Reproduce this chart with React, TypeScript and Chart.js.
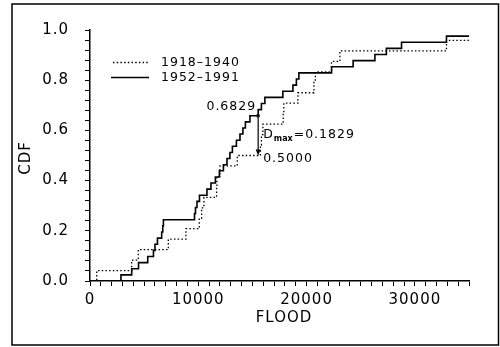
import React, { useEffect, useRef } from "react";
import { Chart, registerables } from "chart.js";

Chart.register(...registerables);

const FONT = "'DejaVu Sans', sans-serif";

// Legend labels
const SERIES_A_LABEL = "1918–1940";
const SERIES_B_LABEL = "1952–1991";

// 1918–1940: sorted flood values and their CDF levels (i/(n+1), n = 23)
const floodA = [620, 3850, 4460, 7230, 8860, 10090, 10310, 10520, 11690, 11720, 12000, 13600, 15740, 15830, 15970, 17840, 17900, 19200, 20680, 20810, 22300, 23080, 32920];
const cdfA = [0.0417, 0.0833, 0.125, 0.1667, 0.2083, 0.25, 0.2917, 0.3333, 0.375, 0.4167, 0.4583, 0.5, 0.5417, 0.5833, 0.625, 0.6667, 0.7083, 0.75, 0.7917, 0.8333, 0.875, 0.9167, 0.9583];

// 1952–1991: sorted flood values and their CDF levels (i/(n+1), n = 40)
const floodB = [2860, 3850, 4480, 5330, 5860, 6000, 6230, 6620, 6720, 6780, 9650, 9740, 9880, 10110, 10800, 11170, 11580, 11950, 12320, 12650, 12920, 13150, 13520, 13850, 14120, 14350, 14770, 15530, 15830, 16150, 17810, 18740, 19060, 19290, 22310, 24300, 26310, 27370, 28770, 32920];
const cdfB = [0.0244, 0.0488, 0.0732, 0.0976, 0.122, 0.1463, 0.1707, 0.1951, 0.2195, 0.2439, 0.2683, 0.2927, 0.3171, 0.3415, 0.3659, 0.3902, 0.4146, 0.439, 0.4634, 0.4878, 0.5122, 0.5366, 0.561, 0.5854, 0.6098, 0.6341, 0.6585, 0.6829, 0.7073, 0.7317, 0.7561, 0.7805, 0.8049, 0.8293, 0.8537, 0.878, 0.9024, 0.9268, 0.9512, 0.9756];

// Axes
const X_MIN = 0;
const X_MAX = 35000;
const X_MINOR_STEP = 1000;
const xTickLabels = ["0", "10000", "20000", "30000"];
const Y_MIN = 0;
const Y_MAX = 1;
const Y_MINOR_STEP = 0.04;
const yTickLabels = ["0.0", "0.2", "0.4", "0.6", "0.8", "1.0"];
const X_TITLE = "FLOOD";
const Y_TITLE = "CDF";

// Kolmogorov–Smirnov annotation
const DMAX_X = 15530;
const DMAX_HIGH = 0.6829;
const DMAX_LOW = 0.5;
const DMAX_VALUE = 0.1829;

function toPoints(xs: number[], ys: number[]) {
  const pts = [{ x: X_MIN, y: 0 }];
  xs.forEach((x, i) => pts.push({ x, y: ys[i] }));
  pts.push({ x: X_MAX, y: ys[ys.length - 1] });
  return pts;
}

const overlay = {
  id: "overlay",
  beforeDraw(chart: any) {
    const ctx = chart.ctx;
    ctx.save();
    ctx.fillStyle = "#fff";
    ctx.fillRect(0, 0, chart.width, chart.height);
    ctx.restore();
    (ctx as any).letterSpacing = "1px";
  },
  afterDraw(chart: any) {
    const ctx = chart.ctx;
    const xs = chart.scales.x;
    const ys = chart.scales.y;
    ctx.save();
    (ctx as any).letterSpacing = "1px";
    ctx.fillStyle = "#000";
    ctx.strokeStyle = "#000";

    // outer frame
    ctx.lineWidth = 1.5;
    ctx.strokeRect(12, 4, 486.5, 341);

    // axis titles
    ctx.font = `15px ${FONT}`;
    ctx.textAlign = "center";
    ctx.textBaseline = "middle";
    ctx.fillText(X_TITLE, 284, 318);
    ctx.save();
    ctx.translate(26, 158);
    ctx.rotate(-Math.PI / 2);
    ctx.fillText(Y_TITLE, 0, 0);
    ctx.restore();

    // legend
    ctx.lineWidth = 1.3;
    ctx.setLineDash([1.5, 2.2]);
    ctx.beginPath();
    ctx.moveTo(113, 62.5);
    ctx.lineTo(150, 62.5);
    ctx.stroke();
    ctx.setLineDash([]);
    ctx.lineWidth = 1.6;
    ctx.beginPath();
    ctx.moveTo(111, 77.5);
    ctx.lineTo(149, 77.5);
    ctx.stroke();
    ctx.font = `12.5px ${FONT}`;
    ctx.textAlign = "left";
    ctx.fillText(SERIES_A_LABEL, 161, 63);
    ctx.fillText(SERIES_B_LABEL, 161, 78);

    // Dmax arrow
    const ax = xs.getPixelForValue(DMAX_X);
    const yTop = ys.getPixelForValue(cdfB[floodB.indexOf(DMAX_X) - 1]);
    const yHigh = ys.getPixelForValue(DMAX_HIGH);
    const yLow = ys.getPixelForValue(DMAX_LOW);
    ctx.lineWidth = 1.2;
    ctx.beginPath();
    ctx.moveTo(ax, yTop);
    ctx.lineTo(ax, yLow - 4);
    ctx.stroke();
    ctx.beginPath();
    ctx.moveTo(ax - 2.5, yLow - 6);
    ctx.lineTo(ax + 2.5, yLow - 6);
    ctx.lineTo(ax, yLow);
    ctx.closePath();
    ctx.fill();
    ctx.fillRect(ax - 1.5, yTop - 1.5, 3, 3);

    ctx.font = `12.5px ${FONT}`;
    ctx.textAlign = "right";
    ctx.fillText(DMAX_HIGH.toFixed(4), ax - 2, yHigh - 3);
    ctx.textAlign = "left";
    ctx.fillText(DMAX_LOW.toFixed(4), ax + 5, yLow + 3);
    const dy = (yHigh + yLow) / 2 + 2.5;
    ctx.fillText("D", ax + 5, dy);
    const dW = ctx.measureText("D").width;
    ctx.font = `bold 8px ${FONT}`;
    (ctx as any).letterSpacing = "0px";
    ctx.fillText("max", ax + 5 + dW, dy + 4);
    const mW = ctx.measureText("max").width;
    (ctx as any).letterSpacing = "1px";
    ctx.font = `12.5px ${FONT}`;
    ctx.fillText("=" + DMAX_VALUE.toFixed(4), ax + 5 + dW + mW + 1, dy);

    ctx.restore();
  },
};

export default function App() {
  const ref = useRef<HTMLCanvasElement | null>(null);
  useEffect(() => {
    if (!ref.current) return;
    const chart = new Chart(ref.current, {
      type: "line",
      data: {
        datasets: [
          {
            label: SERIES_A_LABEL,
            data: toPoints(floodA, cdfA),
            borderColor: "#000",
            borderWidth: 1.3,
            borderDash: [1.5, 2.2],
            pointRadius: 0,
            stepped: true,
            fill: false,
          },
          {
            label: SERIES_B_LABEL,
            data: toPoints(floodB, cdfB),
            borderColor: "#000",
            borderWidth: 1.6,
            pointRadius: 0,
            stepped: true,
            fill: false,
          },
        ],
      },
      options: {
        responsive: false,
        animation: false,
        devicePixelRatio: 1,
        layout: { padding: { left: 0, right: 31, top: 30, bottom: 0 } },
        plugins: {
          legend: { display: false },
          tooltip: { enabled: false },
        },
        scales: {
          x: {
            type: "linear",
            min: X_MIN,
            max: X_MAX,
            afterFit: (s: any) => {
              s.height = 66;
            },
            border: { display: true, color: "#000", width: 1.5 },
            grid: {
              display: true,
              drawOnChartArea: false,
              drawTicks: true,
              tickLength: 5,
              color: "#000",
              lineWidth: 1,
            },
            ticks: {
              stepSize: X_MINOR_STEP,
              autoSkip: false,
              maxRotation: 0,
              minRotation: 0,
              color: "#000",
              padding: 5,
              font: { family: FONT, size: 15 },
              callback: (v: any) => {
                const n = Math.round(Number(v));
                return n % 10000 === 0 ? xTickLabels[n / 10000] ?? "" : "";
              },
            },
          },
          y: {
            min: Y_MIN,
            max: Y_MAX,
            afterFit: (s: any) => {
              s.width = 90;
            },
            border: { display: true, color: "#000", width: 1.5 },
            grid: {
              display: true,
              drawOnChartArea: false,
              drawTicks: true,
              tickLength: 5,
              color: "#000",
              lineWidth: 1,
            },
            ticks: {
              stepSize: Y_MINOR_STEP,
              autoSkip: false,
              color: "#000",
              padding: 16,
              font: { family: FONT, size: 15 },
              callback: (v: any) => {
                const n = Math.round(Number(v) * 100);
                return n % 20 === 0 ? yTickLabels[n / 20] ?? "" : "";
              },
            },
          },
        },
      },
      plugins: [overlay],
    } as any);
    return () => chart.destroy();
  }, []);
  return (
    <div style={{ position: "absolute", left: 0, top: 0, width: 500, height: 347, background: "#fff" }}>
      <canvas ref={ref} width={500} height={347} style={{ display: "block" }} />
    </div>
  );
}
